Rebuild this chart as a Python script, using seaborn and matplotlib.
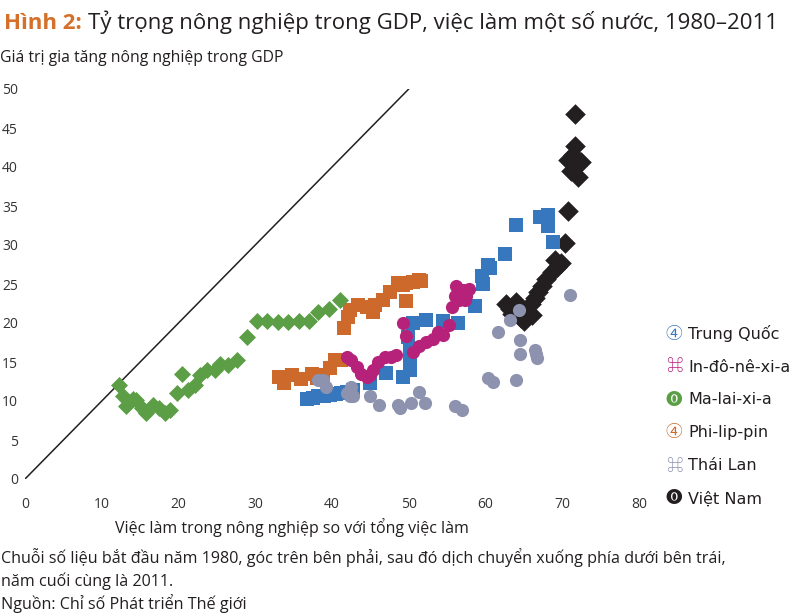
import numpy as np
import pandas as pd
import matplotlib
matplotlib.use("Agg")
import matplotlib.pyplot as plt
import seaborn as sns
from matplotlib import font_manager
from matplotlib.ft2font import FT2Font

sns.set_theme(style="white")
plt.rcParams['font.family'] = ['Open Sans', 'DejaVu Sans']

# du lieu (x: viec lam nong nghiep %, y: gia tri gia tang nong nghiep % GDP)
trung_quoc_x = [36.7, 37.5, 38.2, 39.0, 39.7, 40.5, 41.2, 42.0, 42.7, 44.9, 47.1, 49.3, 50.1, 50.1,
                50.1, 49.9, 50.6, 52.3, 54.5, 56.4, 58.6, 59.7, 59.5, 60.3, 60.6, 62.5, 64.0, 67.1,
                68.1, 68.1, 68.8]
trung_quoc_y = [10.2, 10.4, 10.6, 10.7, 10.8, 10.9, 11.0, 11.2, 11.4, 12.3, 13.6, 13.1, 14.0, 15.3,
                16.6, 18.2, 20.0, 20.4, 20.2, 20.0, 22.2, 25.0, 26.0, 27.4, 27.0, 28.8, 32.6, 33.6,
                33.8, 32.5, 30.4]

indonesia_x = [41.9, 42.5, 43.2, 43.8, 44.5, 45.0, 45.4, 46.0, 46.9, 47.7, 48.4, 49.3, 49.7, 50.6,
               51.4, 52.3, 53.2, 53.8, 54.5, 55.3, 55.6, 56.0, 56.2, 56.6, 57.1, 57.5, 57.9, 56.8,
               57.3]
indonesia_y = [15.7, 15.3, 14.4, 13.5, 13.1, 13.3, 14.0, 15.0, 15.7, 15.7, 15.9, 20.0, 18.3, 16.3,
               17.0, 17.6, 18.0, 18.9, 18.5, 19.7, 22.1, 23.4, 24.7, 22.9, 24.2, 23.4, 24.4, 23.8,
               23.0]

malaysia_x = [12.2, 12.8, 13.2, 14.1, 14.5, 15.2, 15.8, 16.7, 17.4, 18.2, 18.9, 19.8, 20.5, 21.3,
              22.1, 22.8, 23.7, 24.7, 25.4, 26.5, 27.6, 28.9, 30.2, 31.5, 32.9, 34.3, 35.7, 37.0,
              38.2, 39.6, 41.0]
malaysia_y = [12.1, 10.6, 9.3, 10.3, 10.1, 9.1, 8.4, 9.5, 9.1, 8.4, 8.8, 11.0, 13.5, 11.4,
              12.1, 13.3, 14.0, 14.0, 14.8, 14.6, 15.3, 18.2, 20.3, 20.3, 20.1, 20.1, 20.3, 20.3,
              21.4, 21.8, 22.9]

philippines_x = [33.1, 33.7, 34.8, 35.9, 37.4, 38.0, 38.8, 39.7, 40.4, 41.2,
                 41.6, 42.1, 42.3, 43.4, 44.5, 45.4, 45.6, 46.7, 47.5, 48.6, 49.3, 49.7, 49.7,
                 50.5, 51.4, 51.6]
philippines_y = [13.1, 12.3, 13.3, 12.8, 13.5, 12.9, 13.3, 14.2, 15.3, 15.2,
                 19.3, 20.8, 21.7, 22.3, 22.1, 21.4, 22.3, 22.9, 24.0, 25.1, 24.9, 25.1, 22.8,
                 25.3, 25.5, 25.4]

thailand_x = [38.2, 38.8, 39.2, 41.9, 42.3, 42.5, 42.7, 44.9, 46.1, 48.6, 48.8, 50.3, 51.3, 52.1,
              56.0, 56.9, 60.3, 61.0, 64.0, 61.6, 63.2, 64.4, 64.5, 64.5, 66.5, 66.6, 66.7, 71.0]
thailand_y = [12.7, 12.7, 11.8, 11.0, 10.6, 11.8, 10.6, 10.6, 9.5, 9.5, 9.1, 9.7, 11.1, 9.8,
              9.3, 8.8, 12.9, 12.5, 12.7, 18.9, 20.4, 21.7, 17.8, 16.0, 16.5, 16.0, 15.5, 23.6]

vietnam_x = [71.7, 71.6, 71.4, 70.8, 72.4, 71.8, 71.2, 72.0, 70.7, 70.3, 69.0, 69.9, 69.3, 68.6,
             67.9, 67.3, 66.8, 66.4, 65.9, 65.3, 64.6, 62.7, 63.2, 64.0, 63.4, 64.1, 65.0, 66.0]
vietnam_y = [46.8, 42.7, 41.5, 40.9, 40.7, 40.2, 39.5, 38.7, 34.4, 30.2, 28.1, 27.7, 27.2, 26.5,
             25.6, 24.7, 24.0, 23.2, 22.4, 21.6, 20.6, 22.5, 21.8, 22.7, 21.2, 21.4, 20.3, 21.0]

duong_cheo = [0, 50]

ten_nuoc = ['Trung Quốc', 'In-đô-nê-xi-a', 'Ma-lai-xi-a', 'Phi-lip-pin', 'Thái Lan', 'Việt Nam']
ky_hieu_legend = ['④', '⌘', '⓿', '④', '⌘', '⓿']
mau = ['#3677BE', '#B6217A', '#5B9E45', '#CD6A2B', '#8D92AF', '#231F20']

du_lieu = {
    'Trung Quốc': (trung_quoc_x, trung_quoc_y),
    'In-đô-nê-xi-a': (indonesia_x, indonesia_y),
    'Ma-lai-xi-a': (malaysia_x, malaysia_y),
    'Phi-lip-pin': (philippines_x, philippines_y),
    'Thái Lan': (thailand_x, thailand_y),
    'Việt Nam': (vietnam_x, vietnam_y),
}
marker = {'Trung Quốc': 's', 'In-đô-nê-xi-a': 'o', 'Ma-lai-xi-a': 'D',
          'Phi-lip-pin': 's', 'Thái Lan': 'o', 'Việt Nam': 'D'}
co = {'Trung Quốc': 100, 'In-đô-nê-xi-a': 90, 'Ma-lai-xi-a': 75,
      'Phi-lip-pin': 100, 'Thái Lan': 90, 'Việt Nam': 110}
thu_tu_ve = ['Việt Nam', 'Trung Quốc', 'Phi-lip-pin', 'Ma-lai-xi-a', 'In-đô-nê-xi-a', 'Thái Lan']

# tim font co ky tu ⓿ (U+24FF)
font_ky_hieu = ['DejaVu Sans']
for f in font_manager.fontManager.ttflist:
    try:
        if 0x24FF in FT2Font(f.fname).get_charmap():
            font_ky_hieu = [f.name, 'DejaVu Sans']
            break
    except Exception:
        pass

fig = plt.figure(figsize=(7.93, 6.14), dpi=100)
ax = fig.add_axes([25 / 793, 135 / 614, 614 / 793, 390 / 614])

ax.plot(duong_cheo, duong_cheo, color='#231F20', lw=1.1, zorder=1)

for nuoc in thu_tu_ve:
    x, y = du_lieu[nuoc]
    df = pd.DataFrame({'x': x, 'y': y})
    sns.scatterplot(data=df, x='x', y='y', ax=ax, marker=marker[nuoc], s=co[nuoc],
                    color=mau[ten_nuoc.index(nuoc)], linewidth=0, legend=False,
                    clip_on=False, zorder=2)

ax.set_xlim(0, 80)
ax.set_ylim(0, 50)
ax.set_xticks(range(0, 81, 10))
ax.set_yticks(range(0, 51, 5))
ax.set_xlabel('')
ax.set_ylabel('')
ax.tick_params(length=0, labelsize=10, colors='#333333')
ax.tick_params(axis='x', pad=13)
ax.tick_params(axis='y', pad=5)
sns.despine(ax=ax, left=True, bottom=True)

# tieu de
t1 = fig.text(4 / 793, 1 - 29 / 614, 'Hình 2:', fontsize=16, fontweight='bold', color='#D4702A')
fig.canvas.draw()
bb = t1.get_window_extent(fig.canvas.get_renderer())
fig.text((bb.x1 + 6) / 793, 1 - 29 / 614,
         'Tỷ trọng nông nghiệp trong GDP, việc làm một số nước, 1980–2011',
         fontsize=16, color='#231F20')

fig.text(0, 1 - 62 / 614, 'Giá trị gia tăng nông nghiệp trong GDP', fontsize=11.3, color='#231F20')
fig.text(292 / 793, 1 - 533 / 614, 'Việc làm trong nông nghiệp so với tổng việc làm',
         fontsize=11.5, color='#231F20', ha='center')

chu_thich = ['Chuỗi số liệu bắt đầu năm 1980, góc trên bên phải, sau đó dịch chuyển xuống phía dưới bên trái,',
             'năm cuối cùng là 2011.',
             'Nguồn: Chỉ số Phát triển Thế giới']
for i, dong in enumerate(chu_thich):
    fig.text(1 / 793, 1 - (563 + i * 23) / 614, dong, fontsize=11.6, color='#231F20')

# chu giai
for i, (ten, kh) in enumerate(zip(ten_nuoc, ky_hieu_legend)):
    yy = 1 - (334 + i * 33) / 614
    fig.text(674 / 793, yy, kh, fontsize=12, color=mau[i], ha='center', va='center',
             family=font_ky_hieu)
    fig.text(688 / 793, yy, ten, fontsize=11.5, color='#231F20', va='center',
             family=['DejaVu Sans'])

plt.savefig('out.png', dpi=100)
